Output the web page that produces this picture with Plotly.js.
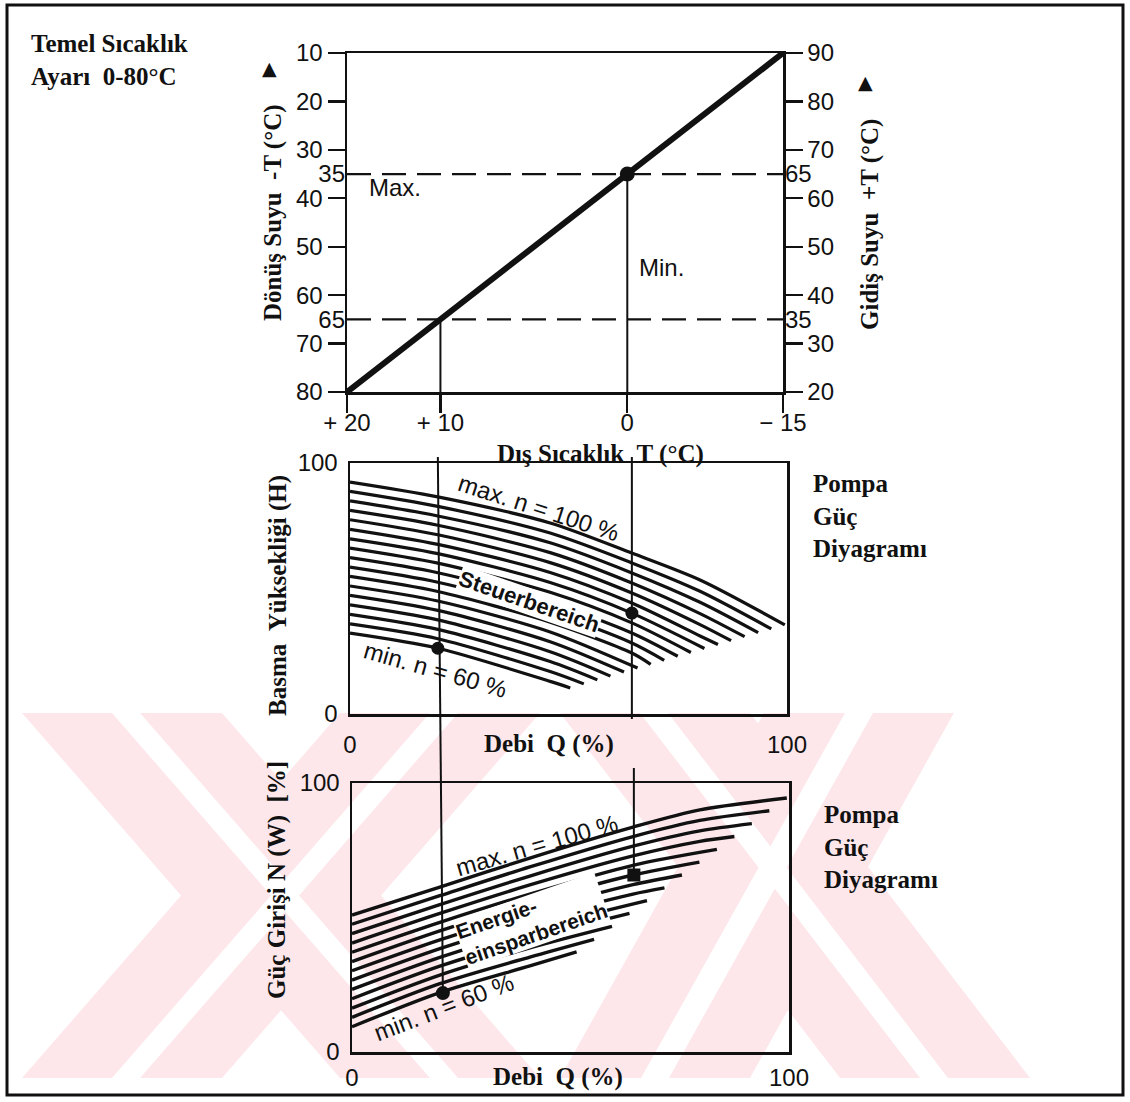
<!DOCTYPE html>
<html>
<head>
<meta charset="utf-8">
<script src="https://cdn.plot.ly/plotly-3.0.1.min.js"></script>
<style>
html,body{margin:0;padding:0;background:#fff;}
#chart{width:1130px;height:1102px;}
</style>
</head>
<body>
<div id="chart"></div>
<script>
// ================= DATA =================
// --- Top: heating curve (Temel Sıcaklık Ayarı) ---
const outdoorTempLabels = ['+\u00a020', '+\u00a010', '0', '\u2212\u00a015'];
const outdoorTempPos    = [80, 65, 35, 10];   // where each outdoor temp sits on the curve scale
const returnTemp        = [80, 65, 35, 10];   // Dönüş suyu (left axis) at those outdoor temps
const returnTicks       = [10, 20, 30, 40, 50, 60, 70, 80];
const returnMarked      = [35, 65];           // Max. / Min. levels (left axis)
const flowTicks         = [20, 30, 40, 50, 60, 70, 80, 90];
const flowMarked        = [65, 35];           // same levels on the right axis
const flowRange         = [20, 90];
const designPoint       = [35, 35];           // dot on the curve at 0 °C

// --- Middle: pump head curves (n = 100 % ... 60 %) ---
const headQ     = [0, 20.1, 45.8, 64.5, 80.1];
const headAtQ0  = [92.4, 88.7, 84.9, 81.1, 77.4, 73.6, 69.8, 66.1, 62.3, 58.5, 54.8, 51.0, 47.3, 43.5, 39.7, 35.9, 32.2];
const headAtQ20 = [86.5, 82.7, 78.9, 75.2, 71.4, 67.6, 63.9, 60.1, 56.3, 52.5, 48.8, 45.0, 41.3, 37.5, 33.7, 30.0, 26.2];
const headAtQ46 = [76.1, 72.1, 68.2, 64.3, 60.3, 56.4, 52.4, 48.5, 44.5, 40.6, 36.6, 32.7, 28.8, 24.8, 20.9, 16.9, 13.0];
const headAtQ65 = [64.1, 60.2, 56.2, 52.2, 48.2, 44.2, 40.2, 36.3, 32.3, 28.3, 24.3, null, null, null, null, null, null];
const headAtQ80 = [53.4, 48.9, 44.5, 40.0, 35.6, 31.1, null, null, null, null, null, null, null, null, null, null, null];
const headEndQ  = [99.5, 96.4, 93.4, 90.3, 87.2, 84.2, 81.1, 78.0, 75.0, 71.9, 68.8, 65.8, 62.7, 59.6, 56.6, 53.5, 50.4];
const headEndH  = [35.5, 33.9, 32.4, 30.8, 29.2, 27.7, 26.1, 24.5, 23.0, 21.4, 19.8, 18.3, 16.7, 15.1, 13.6, 12.0, 10.4];
const headDotQ  = [20.1, 64.5];
const headDotH  = [26.2, 40.2];

// --- Bottom: pump power input lines (n = 100 % ... 60 %) ---
const powerQ     = [0, 20.1, 40.7, 64.3, 79.6];
const powerAtQ0  = [50.9, 47.5, 44.0, 40.5, 37.1, 33.6, 30.2, 26.7, 23.3, 19.8, 16.3, 12.9, 9.4];
const powerAtQ20 = [61.3, 58.1, 54.8, 51.5, 48.2, 45.0, 41.7, 38.4, 35.2, 31.9, 28.6, 25.4, 22.1];
const powerAtQ41 = [72.1, 68.8, 65.4, 62.1, 58.7, 55.4, 52.0, 48.7, 45.4, 42.0, 38.7, 35.3, 32.0];
const powerAtQ64 = [83.6, 80.1, 76.5, 72.9, 69.4, 65.8, 62.2, 58.7, null, null, null, null, null];
const powerAtQ80 = [90.0, 86.1, 82.2, 78.3, null, null, null, null, null, null, null, null, null];
const powerEndQ  = [99.5, 95.5, 91.5, 87.5, 83.5, 79.5, 75.5, 71.5, 67.5, 63.5, 59.5, 55.4, 51.4];
const powerEndN  = [94.4, 89.7, 84.9, 80.1, 75.3, 70.6, 65.8, 61.0, 56.3, 51.5, 46.7, 41.9, 37.2];
const powerDotQ  = [20.8, 64.5];
const powerDotN  = [21.9, 65.8];

// ================= LAYOUT HELPERS =================
const W = 1130, H = 1102;
const INK = '#111111';
const SANS = 'Liberation Sans, Arial, Helvetica, sans-serif';
const SERIF = 'Liberation Serif, Times New Roman, serif';
const TOP = {x0: 347, x1: 783, y0: 53,  y1: 392};
const MID = {x0: 350, x1: 787, y0: 463, y1: 714};
const BOT = {x0: 352, x1: 789, y0: 783, y1: 1052};
const dx = b => [b.x0 / W, b.x1 / W];
const dy = b => [1 - b.y1 / H, 1 - b.y0 / H];
const px = v => v / W;
const py = v => 1 - v / H;
// linear scales matching the axes (for connectors spanning several panels)
const midX = q => MID.x0 + q / 100 * (MID.x1 - MID.x0);
const botX = q => BOT.x0 + q / 100 * (BOT.x1 - BOT.x0);
const botY = n => BOT.y1 - n / 100 * (BOT.y1 - BOT.y0);

// ================= TRACES =================
const traces = [];
// heating curve
traces.push({type:'scatter', mode:'lines', x: outdoorTempPos, y: returnTemp, xaxis:'x', yaxis:'y',
  line:{color: INK, width: 6}, hoverinfo:'skip'});
// invisible carriers so that the overlaying axes are drawn
['y2', 'y4'].forEach(ya => traces.push({type:'scatter', mode:'markers', x:[outdoorTempPos[0], outdoorTempPos[3]],
  y: flowRange, xaxis:'x', yaxis: ya, marker:{opacity:0, size:1}, hoverinfo:'skip'}));
traces.push({type:'scatter', mode:'markers', x:[outdoorTempPos[0], outdoorTempPos[3]], y: returnMarked,
  xaxis:'x', yaxis:'y3', marker:{opacity:0, size:1}, hoverinfo:'skip'});
// Max./Min. dashed levels
returnMarked.forEach(lv => traces.push({type:'scatter', mode:'lines',
  x:[outdoorTempPos[0], outdoorTempPos[outdoorTempPos.length-1]], y:[lv, lv], xaxis:'x', yaxis:'y',
  line:{color: INK, width: 2.2, dash:'24px,11px'}, hoverinfo:'skip'}));
// design point
traces.push({type:'scatter', mode:'markers', x:[designPoint[0]], y:[designPoint[1]], xaxis:'x', yaxis:'y',
  marker:{color: INK, size: 15}, cliponaxis:false, hoverinfo:'skip'});

function family(qs, cols, endQ, endV, xa, ya, width) {
  for (let k = 0; k < endQ.length; k++) {
    const x = [], y = [];
    cols.forEach((c, i) => { if (c[k] != null) { x.push(qs[i]); y.push(c[k]); } });
    x.push(endQ[k]); y.push(endV[k]);
    traces.push({type:'scatter', mode:'lines', x, y, xaxis: xa, yaxis: ya,
      line:{color: INK, width, shape:'spline', smoothing: 0.8}, hoverinfo:'skip'});
  }
}
family(headQ, [headAtQ0, headAtQ20, headAtQ46, headAtQ65, headAtQ80], headEndQ, headEndH, 'x2', 'y5', 3.2);
family(powerQ, [powerAtQ0, powerAtQ20, powerAtQ41, powerAtQ64, powerAtQ80], powerEndQ, powerEndN, 'x3', 'y6', 3.4);

traces.push({type:'scatter', mode:'markers', x: headDotQ, y: headDotH, xaxis:'x2', yaxis:'y5',
  marker:{color: INK, size: 13, line:{width:0}}, cliponaxis:false, hoverinfo:'skip'});
traces.push({type:'scatter', mode:'markers', x:[powerDotQ[0]], y:[powerDotN[0]], xaxis:'x3', yaxis:'y6',
  marker:{color: INK, size: 14, symbol:'circle', line:{width:0}}, cliponaxis:false, hoverinfo:'skip'});
traces.push({type:'scatter', mode:'markers', x:[powerDotQ[1]], y:[powerDotN[1]], xaxis:'x3', yaxis:'y6',
  marker:{color: INK, size: 13, symbol:'square', line:{width:0}}, cliponaxis:false, hoverinfo:'skip'});

// ================= SHAPES =================
const shapes = [];
function poly(pts) {
  return 'M' + pts.map(p => px(p[0]).toFixed(4) + ',' + py(p[1]).toFixed(4)).join(' L') + ' Z';
}
const PINK = '#fde7eb';
[
  [[22,713],[222,713],[540,1078],[340,1078]],
  [[340,713],[540,713],[222,1078],[22,1078]],
  [[560,713],[750,713],[1030,1078],[840,1078]],
  [[764,713],[954,713],[750,1078],[560,1078]]
].forEach(p => shapes.push({type:'path', xref:'paper', yref:'paper', path: poly(p),
  fillcolor: PINK, line:{width:0}, layer:'below'}));
// thin white inner stripes of the watermark
[
  [[112,713],[140,713],[458,1078],[430,1078]],
  [[430,713],[458,713],[140,1078],[112,1078]],
  [[640,713],[668,713],[948,1078],[920,1078]],
  [[845,713],[873,713],[669,1078],[641,1078]]
].forEach(p => shapes.push({type:'path', xref:'paper', yref:'paper', path: poly(p),
  fillcolor: '#ffffff', line:{width:0}, layer:'below'}));

// vertical connectors in the top panel (from the curve down to the axis)
[65, 35].forEach(v => shapes.push({type:'line', xref:'x', yref:'y', x0:v, x1:v, y0:v, y1:80,
  line:{color: INK, width: 2}}));
// +10 °C connector through middle and bottom panels
shapes.push({type:'line', xref:'paper', yref:'paper',
  x0: px(midX(headDotQ[0])), y0: py(457), x1: px(botX(powerDotQ[0])), y1: py(botY(powerDotN[0])),
  line:{color: INK, width: 2}});
// 0 °C connector: middle panel
shapes.push({type:'line', xref:'x2', yref:'paper', x0: headDotQ[1], x1: headDotQ[1], y0: py(457), y1: py(719),
  line:{color: INK, width: 2}});
// 0 °C connector: bottom panel down to the dot
shapes.push({type:'line', xref:'paper', yref:'paper',
  x0: px(botX(powerDotQ[1])), x1: px(botX(powerDotQ[1])), y0: py(768), y1: py(botY(powerDotN[1])),
  line:{color: INK, width: 2}});
// outer frame
shapes.push({type:'rect', xref:'paper', yref:'paper', x0: px(7), x1: px(1123), y0: py(1095), y1: py(5),
  line:{color: INK, width: 3}, fillcolor:'rgba(0,0,0,0)'});

// ================= ANNOTATIONS =================
function ann(text, x, y, o) {
  return Object.assign({text, xref:'paper', yref:'paper', x: px(x), y: py(y), showarrow:false,
    xanchor:'center', yanchor:'middle', font:{family: SERIF, size: 25, color: INK, weight:'bold'}}, o || {});
}
const sp2 = '\u00a0\u00a0';
const annotations = [
  ann('Temel Sıcaklık<br>Ayarı' + sp2 + '0-80°C', 29, 28, {xanchor:'left', yanchor:'top', align:'left',
    font:{family: SERIF, size: 25, color: INK, weight:'bold'}}),
  ann('▲', 269, 68, {font:{family: 'DejaVu Sans, sans-serif', size: 19, color: INK}}),
  ann('▲', 865, 82, {font:{family: 'DejaVu Sans, sans-serif', size: 19, color: INK}}),
  ann('Dönüş Suyu' + sp2 + '-T (°C)', 273, 213, {textangle: -90}),
  ann('Gidiş Suyu' + sp2 + '+T (°C)', 870, 225, {textangle: -90}),
  ann('Max.', 395, 187, {font:{family: SANS, size: 24, color: INK}}),
  ann('Min.', 661, 268, {font:{family: SANS, size: 24, color: INK}}),
  ann('Dış Sıcaklık' + sp2 + 'T (°C)', 600, 454),
  ann('Basma' + sp2 + 'Yüksekliği (H)', 278, 596, {textangle: -90}),
  ann('Debi' + sp2 + 'Q (%)', 549, 744),
  ann('Pompa<br>Güç<br>Diyagramı', 811, 468, {xanchor:'left', yanchor:'top', align:'left',
    font:{family: SERIF, size: 25, color: INK, weight: 'bold'}}),
  ann('max. n = 100 %', 538, 508, {textangle: 18, font:{family: SANS, size: 24, color: INK}}),
  ann('<b>Steuerbereich</b>', 529, 601, {textangle: 19, bgcolor:'#ffffff', borderpad: 0,
    font:{family: SANS, size: 22, color: INK}}),
  ann('min. n = 60 %', 435, 669, {textangle: 16, font:{family: SANS, size: 24, color: INK}}),
  ann('Güç Girişi N (W)' + sp2 + '[%]', 277, 880, {textangle: -90}),
  ann('Debi' + sp2 + 'Q (%)', 558, 1077),
  ann('Pompa<br>Güç<br>Diyagramı', 822, 799, {xanchor:'left', yanchor:'top', align:'left',
    font:{family: SERIF, size: 25, color: INK, weight: 'bold'}}),
  ann('max. n = 100 %', 536, 845, {textangle: -16, font:{family: SANS, size: 24, color: INK}}),
  ann('<b>Energie-</b><br><b>einsparbereich</b>', 531, 921, {textangle: -19, align:'left', bgcolor:'#ffffff', borderpad: 0,
    font:{family: SANS, size: 21, color: INK}}),
  ann('min. n = 60 %', 443, 1007, {textangle: -21, font:{family: SANS, size: 24, color: INK}})
];

// ================= AXES =================
const tickFont = {family: SANS, size: 24, color: INK};
const base = {showgrid:false, zeroline:false, tickfont: tickFont, linecolor: INK, tickcolor: INK, fixedrange:true};
const layout = {
  width: W, height: H, margin:{l:0, r:0, t:0, b:0},
  paper_bgcolor:'#ffffff', plot_bgcolor:'rgba(0,0,0,0)', showlegend:false,
  xaxis: Object.assign({}, base, {domain: dx(TOP), anchor:'y', range:[80, 10], tickmode:'array',
    tickvals: outdoorTempPos, ticktext: outdoorTempLabels, ticks:'outside', ticklen: 18, tickwidth: 2.2,
    showline:true, linewidth: 2.5, mirror:true, ticklabelstandoff: -10}),
  yaxis: Object.assign({}, base, {domain: dy(TOP), anchor:'x', range:[80, 10], tickmode:'array',
    tickvals: returnTicks, ticks:'outside', ticklen: 17, tickwidth: 2.2, showline:true, linewidth: 2.5}),
  yaxis2: Object.assign({}, base, {overlaying:'y', side:'right', anchor:'x', range: flowRange, tickmode:'array',
    tickvals: flowTicks, ticks:'outside', ticklen: 17, tickwidth: 2.2, showline:true, linewidth: 2.5}),
  yaxis3: Object.assign({}, base, {overlaying:'y', side:'left', anchor:'x', range:[80, 10], tickmode:'array',
    tickvals: returnMarked, ticks:'', showline:false, ticklabelstandoff: 1}),
  yaxis4: Object.assign({}, base, {overlaying:'y', side:'right', anchor:'x', range: flowRange, tickmode:'array',
    tickvals: flowMarked, ticks:'', showline:false, ticklabelstandoff: 1}),
  xaxis2: Object.assign({}, base, {domain: dx(MID), anchor:'y5', range:[0, 100], tickmode:'array',
    tickvals:[0, 100], ticks:'', showline:true, linewidth: 2.5, mirror:true, ticklabelstandoff: 8}),
  yaxis5: Object.assign({}, base, {domain: dy(MID), anchor:'x2', range:[0, 100], tickmode:'array',
    tickvals:[0, 100], ticks:'', showline:true, linewidth: 2.5, mirror:true, ticklabelstandoff: 5}),
  xaxis3: Object.assign({}, base, {domain: dx(BOT), anchor:'y6', range:[0, 100], tickmode:'array',
    tickvals:[0, 100], ticks:'', showline:true, linewidth: 2.5, mirror:true, ticklabelstandoff: 3}),
  yaxis6: Object.assign({}, base, {domain: dy(BOT), anchor:'x3', range:[0, 100], tickmode:'array',
    tickvals:[0, 100], ticks:'', showline:true, linewidth: 2.5, mirror:true, ticklabelstandoff: 5}),
  shapes, annotations
};

Plotly.newPlot('chart', traces, layout, {staticPlot:true, displayModeBar:false});
</script>
</body>
</html>
